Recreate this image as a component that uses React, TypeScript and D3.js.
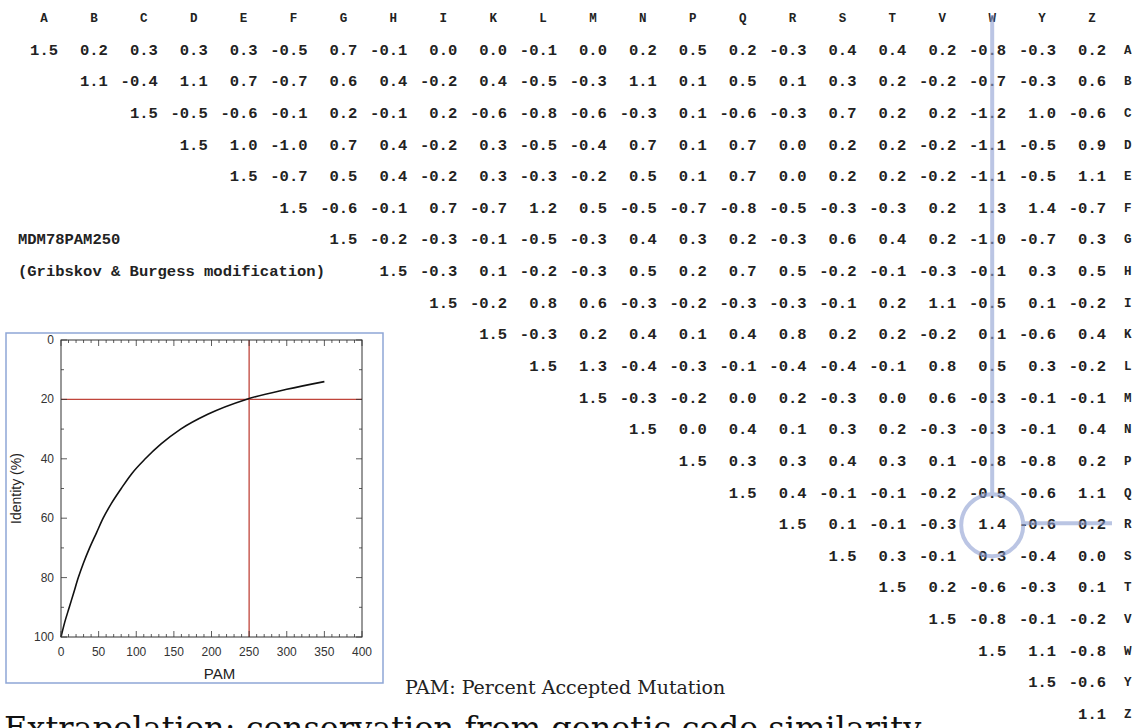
import React from "react";
import * as d3 from "d3";

const columns = ["A","B","C","D","E","F","G","H","I","K","L","M","N","P","Q","R","S","T","V","W","Y","Z"];

const rowA = [1.5,0.2,0.3,0.3,0.3,-0.5,0.7,-0.1,0.0,0.0,-0.1,0.0,0.2,0.5,0.2,-0.3,0.4,0.4,0.2,-0.8,-0.3,0.2];
const rowB = [1.1,-0.4,1.1,0.7,-0.7,0.6,0.4,-0.2,0.4,-0.5,-0.3,1.1,0.1,0.5,0.1,0.3,0.2,-0.2,-0.7,-0.3,0.6];
const rowC = [1.5,-0.5,-0.6,-0.1,0.2,-0.1,0.2,-0.6,-0.8,-0.6,-0.3,0.1,-0.6,-0.3,0.7,0.2,0.2,-1.2,1.0,-0.6];
const rowD = [1.5,1.0,-1.0,0.7,0.4,-0.2,0.3,-0.5,-0.4,0.7,0.1,0.7,0.0,0.2,0.2,-0.2,-1.1,-0.5,0.9];
const rowE = [1.5,-0.7,0.5,0.4,-0.2,0.3,-0.3,-0.2,0.5,0.1,0.7,0.0,0.2,0.2,-0.2,-1.1,-0.5,1.1];
const rowF = [1.5,-0.6,-0.1,0.7,-0.7,1.2,0.5,-0.5,-0.7,-0.8,-0.5,-0.3,-0.3,0.2,1.3,1.4,-0.7];
const rowG = [1.5,-0.2,-0.3,-0.1,-0.5,-0.3,0.4,0.3,0.2,-0.3,0.6,0.4,0.2,-1.0,-0.7,0.3];
const rowH = [1.5,-0.3,0.1,-0.2,-0.3,0.5,0.2,0.7,0.5,-0.2,-0.1,-0.3,-0.1,0.3,0.5];
const rowI = [1.5,-0.2,0.8,0.6,-0.3,-0.2,-0.3,-0.3,-0.1,0.2,1.1,-0.5,0.1,-0.2];
const rowK = [1.5,-0.3,0.2,0.4,0.1,0.4,0.8,0.2,0.2,-0.2,0.1,-0.6,0.4];
const rowL = [1.5,1.3,-0.4,-0.3,-0.1,-0.4,-0.4,-0.1,0.8,0.5,0.3,-0.2];
const rowM = [1.5,-0.3,-0.2,0.0,0.2,-0.3,0.0,0.6,-0.3,-0.1,-0.1];
const rowN = [1.5,0.0,0.4,0.1,0.3,0.2,-0.3,-0.3,-0.1,0.4];
const rowP = [1.5,0.3,0.3,0.4,0.3,0.1,-0.8,-0.8,0.2];
const rowQ = [1.5,0.4,-0.1,-0.1,-0.2,-0.5,-0.6,1.1];
const rowR = [1.5,0.1,-0.1,-0.3,1.4,-0.6,0.2];
const rowS = [1.5,0.3,-0.1,0.3,-0.4,0.0];
const rowT = [1.5,0.2,-0.6,-0.3,0.1];
const rowV = [1.5,-0.8,-0.1,-0.2];
const rowW = [1.5,1.1,-0.8];
const rowY = [1.5,-0.6];
const rowZ = [1.1];

const matrixRows = [rowA,rowB,rowC,rowD,rowE,rowF,rowG,rowH,rowI,rowK,rowL,rowM,rowN,rowP,rowQ,rowR,rowS,rowT,rowV,rowW,rowY,rowZ];

// inset chart data (PAM distance vs. identity %)
const pamValues = [0, 5, 11, 17, 23, 30, 38, 47, 56, 67, 80, 94, 112, 133, 159, 195, 246, 300, 350];
const identityValues = [100, 95, 90, 85, 80, 75, 70, 65, 60, 55, 50, 45, 40, 35, 30, 25, 20, 16.6, 14];
const pamTicks = [0, 50, 100, 150, 200, 250, 300, 350, 400];
const identityTicks = [0, 20, 40, 60, 80, 100];
const pamMarker = 250;
const identityMarker = 20;

const title1 = "MDM78PAM250";
const title2 = "(Gribskov & Burgess modification)";
const footnote = "PAM: Percent Accepted Mutation";
const bottomText = "Extrapolation: conservation from genetic code similarity";

const W = 1143;
const H = 728;
const mono = "'Courier New', 'Liberation Mono', monospace";
const sans = "'Liberation Sans', Arial, Helvetica, sans-serif";
const serif = "'DejaVu Serif', 'Liberation Serif', serif";
const annot = "#8d9fd2";

export default function App() {
  const colX = d3.scaleLinear().domain([0, 21]).range([58, 1106]); // right edges of numbers
  const rowY = d3.scaleLinear().domain([0, 22]).range([19, 715]);

  const x = d3.scaleLinear().domain([0, 400]).range([61, 362]);
  const y = d3.scaleLinear().domain([0, 100]).range([340, 637]);
  const line = d3
    .line<number>()
    .x((_, i) => x(pamValues[i]))
    .y((d) => y(d))
    .curve(d3.curveMonotoneX);

  const wIdx = columns.indexOf("W");
  const rIdx = columns.indexOf("R");
  const circX = colX(wIdx) - 14;
  const circY = rowY(rIdx + 1);
  const circR = 31;

  const minorX = d3.range(0, 401, 10);
  const minorY = d3.range(0, 101, 10);

  return (
    <svg width={W} height={H} style={{ position: "absolute", left: 0, top: 0, background: "#fff" }}>
      <rect x={0} y={0} width={W} height={H} fill="#fff" />
      {columns.map((c, i) => (
        <text key={"h" + c} x={colX(i) - 14} y={rowY(0)} textAnchor="middle" dominantBaseline="central"
          fontFamily={mono} fontWeight="bold" fontSize={12.5} fill="#222">{c}</text>
      ))}
      {matrixRows.map((vals, r) => (
        <g key={"r" + r}>
          {vals.map((v, k) => {
            const ci = r + k;
            return (
              <text key={k} x={colX(ci)} y={rowY(r + 1)} textAnchor="end" dominantBaseline="central"
                fontFamily={mono} fontWeight="bold" fontSize={15.5} fill="#222">{v.toFixed(1)}</text>
            );
          })}
          <text x={1124} y={rowY(r + 1)} dominantBaseline="central" fontFamily={mono} fontWeight="bold"
            fontSize={12.5} fill="#222">{columns[r]}</text>
        </g>
      ))}
      <text x={18} y={rowY(7)} dominantBaseline="central" fontFamily={mono} fontWeight="bold" fontSize={15.5} fill="#222">{title1}</text>
      <text x={18} y={rowY(8)} dominantBaseline="central" fontFamily={mono} fontWeight="bold" fontSize={15.5} fill="#222">{title2}</text>

      <g stroke={annot} strokeWidth={4} fill="none" opacity={0.6}>
        <line x1={circX} x2={circX} y1={rowY(0) - 4} y2={circY - circR} />
        <circle cx={circX} cy={circY} r={circR} />
        <line x1={circX + circR} x2={1112} y1={circY - 2} y2={circY - 2} />
      </g>

      <rect x={6} y={333} width={377} height={350} fill="#fff" stroke="#8ea6d6" strokeWidth={1.5} />
      <g>
        <line x1={x(pamMarker)} x2={x(pamMarker)} y1={y(0)} y2={y(100)} stroke="#c0453b" strokeWidth={1.3} />
        <line x1={x(0)} x2={x(400)} y1={y(identityMarker)} y2={y(identityMarker)} stroke="#c0453b" strokeWidth={1.3} />
        <path d={line(identityValues) || ""} fill="none" stroke="#111" strokeWidth={1.6} />
        <rect x={x(0)} y={y(0)} width={x(400) - x(0)} height={y(100) - y(0)} fill="none" stroke="#333" strokeWidth={1} />
        {minorX.map((t) => {
          const len = t % 50 === 0 ? 6 : 3;
          return (
            <g key={"tx" + t} stroke="#333" strokeWidth={0.8}>
              <line x1={x(t)} x2={x(t)} y1={y(100)} y2={y(100) - len} />
              <line x1={x(t)} x2={x(t)} y1={y(0)} y2={y(0) + len} />
            </g>
          );
        })}
        {minorY.map((t) => {
          const len = t % 20 === 0 ? 6 : 3;
          return (
            <g key={"ty" + t} stroke="#333" strokeWidth={0.8}>
              <line x1={x(0)} x2={x(0) + len} y1={y(t)} y2={y(t)} />
              <line x1={x(400)} x2={x(400) - len} y1={y(t)} y2={y(t)} />
            </g>
          );
        })}
        {pamTicks.map((t) => (
          <text key={"lx" + t} x={x(t)} y={652} textAnchor="middle" dominantBaseline="central"
            fontFamily={sans} fontSize={12} fill="#333">{t}</text>
        ))}
        {identityTicks.map((t) => (
          <text key={"ly" + t} x={54} y={y(t)} textAnchor="end" dominantBaseline="central"
            fontFamily={sans} fontSize={12} fill="#333">{t}</text>
        ))}
        <text x={(x(0) + x(400)) / 2 + 8} y={673} textAnchor="middle" dominantBaseline="central"
          fontFamily={sans} fontSize={15} fill="#222">PAM</text>
        <text transform={`translate(16,${(y(0) + y(100)) / 2}) rotate(-90)`} textAnchor="middle" dominantBaseline="central"
          fontFamily={sans} fontSize={14} fill="#222">Identity (%)</text>
      </g>

      <text x={405} y={687} dominantBaseline="central" fontFamily={serif} fontSize={19} fill="#222">{footnote}</text>
      <text x={4} y={739} fontFamily={serif} fontSize={32} fill="#111">{bottomText}</text>
    </svg>
  );
}
